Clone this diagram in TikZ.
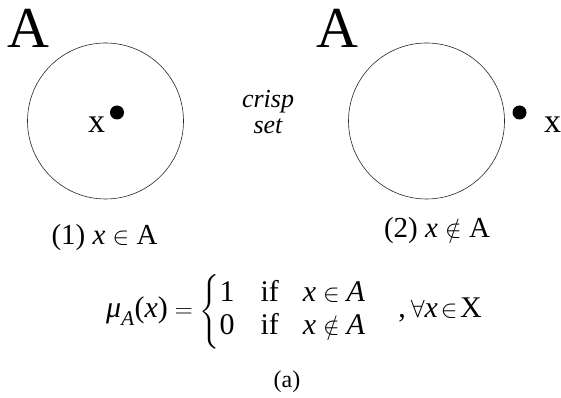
\documentclass[tikz,border=0pt]{standalone}
\usepackage{amsmath}
\usepackage{fontspec}
\setmainfont{Liberation Serif}[ItalicFont={Liberation Serif Italic}]
\begin{document}
\begin{tikzpicture}[x=1pt,y=1pt,
  setcircle/.style={draw=black!85,line width=0.6pt},
  elemdot/.style={fill=black,circle,inner sep=0pt,minimum size=14pt},
  lbl/.style={inner sep=0pt}]
\useasboundingbox (0,0) rectangle (561,398);
% sets
\node[lbl,font=\fontsize{58}{60}\selectfont] (A1) at (28,370) {A};
\node[lbl,font=\fontsize{58}{60}\selectfont] (A2) at (337.5,370) {A};
\draw[setcircle] (105.5,277) circle[radius=78];
\draw[setcircle] (426.5,277) circle[radius=78];
\node[elemdot] (d1) at (117,285.5) {};
\node[elemdot] (d2) at (519.5,285.5) {};
\node[lbl,font=\fontsize{34}{36}\selectfont] (x1) at (96.5,273.5) {x};
\node[lbl,font=\fontsize{34}{36}\selectfont] (x2) at (552.5,273) {x};
% middle label
\node[lbl,anchor=base,font=\fontsize{26}{28}\selectfont\itshape] (crisp) at (268,290) {crisp};
\node[lbl,anchor=base,font=\fontsize{26}{28}\selectfont\itshape] (set) at (268,264) {set};
% captions
\node[lbl,anchor=base,font=\fontsize{29}{32}\selectfont] (c1) at (104.5,153) {(1) \textit{x} $\in$ A};
\node[lbl,anchor=base,font=\fontsize{29}{32}\selectfont] (c2) at (437,160) {(2) \textit{x} $\notin$ A};
% formula
\node[lbl,anchor=base west,font=\fontsize{30}{33}\selectfont] (f) at (106,80)
 {$\textit{μ}_{\textit{A}}\text{(}\textit{x}\text{)} = \left\{\begin{array}{@{}l@{\hspace{26pt}}l@{\hspace{24pt}}l@{}}
 \text{1} & \text{if} & \textit{x}\in \textit{A}\\
 \text{0} & \text{if} & \textit{x}\notin \textit{A}
 \end{array}\right.\hspace{28pt}\text{,}\hspace{5pt}\forall\textit{x}\!\in\!\text{X}$};
\node[lbl,anchor=base,font=\fontsize{24}{28}\selectfont] (cap) at (287,10) {(a)};
\end{tikzpicture}
\end{document}
